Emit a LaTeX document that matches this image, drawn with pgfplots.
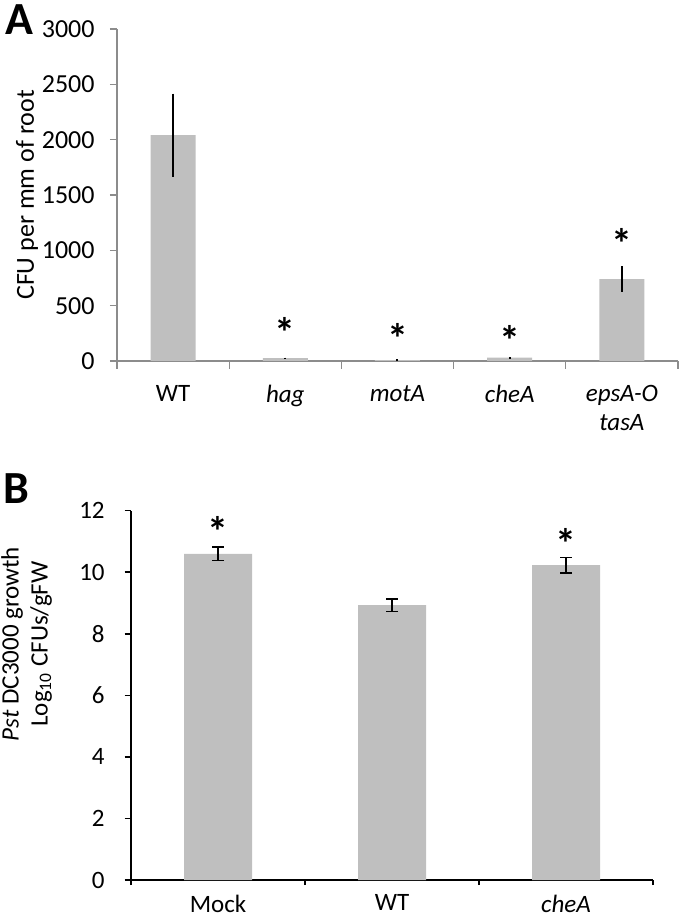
\documentclass[border=0pt]{standalone}
\usepackage{fontspec}
\setmainfont{Carlito}
\usepackage{pgfplots}
\pgfplotsset{compat=1.18}
\definecolor{bargray}{RGB}{191,191,191}
\definecolor{axgray}{RGB}{140,140,140}

\begin{document}
\begin{tikzpicture}
\useasboundingbox (0,0) rectangle (340pt,458.5pt);
% ---------------- Panel A ----------------
\begin{axis}[
  at={(58.5pt,278pt)}, anchor=south west,
  scale only axis, width=280.5pt, height=166pt,
  xmin=-0.5, xmax=4.5, ymin=0, ymax=3000,
  axis x line=bottom, axis y line=left,
  axis line style={-, draw=axgray, line width=0.6pt},
  ytick={0,500,...,3000},
  xtick={0,1,2,3,4},
  xticklabels={WT,\textit{hag},\textit{motA},\textit{cheA},{\textit{epsA-O}\\\textit{tasA}}},
  minor xtick={-0.5,0.5,...,4.5},
  major x tick style={draw=none},
  minor x tick style={draw=axgray, line width=0.6pt},
  major y tick style={draw=axgray, line width=0.6pt},
  tick align=outside, major tick length=3.5pt, minor tick length=4pt,
  /pgf/number format/assume math mode=true,
  /pgf/number format/1000 sep={},
  yticklabel style={font=\fontsize{13}{15}\selectfont, inner sep=0pt, xshift=-7.5pt},
  xticklabel style={font=\fontsize{12.5}{14.2}\selectfont, align=center, anchor=north, inner sep=0pt, yshift=-8.5pt},
  clip=false,
]
\addplot[ybar, bar width=22.5pt, fill=bargray, draw=none,
  error bars/.cd, y dir=both, y explicit,
  error bar style={black, line width=1pt}, error mark=none]
  coordinates {(0,2040) +- (0,375) (1,25) +- (0,5) (2,7) +- (0,7) (3,30) +- (0,8) (4,740) +- (0,115)};
\addplot[draw=none, forget plot, nodes near coords={\bfseries *},
  every node near coord/.style={anchor=center, inner sep=0pt, font=\fontsize{21}{21}\selectfont}]
  coordinates {(1,258) (2,204) (3,189) (4,1058)};
\end{axis}
\node[rotate=90, font=\fontsize{13}{15}\selectfont] at (13.5pt,361pt) {CFU per mm of root};
\node[font=\bfseries\fontsize{23}{24}\selectfont, inner sep=0pt] at (9.5pt,448.75pt) {A};
% ---------------- Panel B ----------------
\begin{axis}[
  at={(65.5pt,18.5pt)}, anchor=south west,
  scale only axis, width=261pt, height=184.65pt,
  xmin=-0.5, xmax=2.5, ymin=0, ymax=12,
  axis x line=bottom, axis y line=left,
  axis line style={-, draw=black, line width=0.75pt},
  ytick={0,2,...,12},
  xtick={0,1,2},
  xticklabels={Mock,WT,\textit{cheA}},
  minor xtick={-0.5,0.5,...,2.5},
  major x tick style={draw=none},
  minor x tick style={draw=black, line width=0.75pt},
  major y tick style={draw=black, line width=0.75pt},
  tick align=outside, major tick length=3.25pt, minor tick length=2.5pt,
  /pgf/number format/assume math mode=true,
  yticklabel style={font=\fontsize{12.5}{14}\selectfont, inner sep=0pt, xshift=-9.75pt},
  xticklabel style={font=\fontsize{12.5}{14.2}\selectfont, anchor=north, inner sep=0pt, yshift=-4pt},
  clip=false,
]
\addplot[ybar, bar width=34pt, fill=bargray, draw=none,
  error bars/.cd, y dir=both, y explicit,
  error bar style={black, line width=0.7pt},
  error mark options={rotate=90, mark size=3pt, line width=0.7pt}]
  coordinates {(0,10.6) +- (0,0.22) (1,8.93) +- (0,0.2) (2,10.23) +- (0,0.25)};
\addplot[draw=none, forget plot, nodes near coords={\bfseries *},
  every node near coord/.style={anchor=center, inner sep=0pt, font=\fontsize{21}{21}\selectfont}]
  coordinates {(0,11.34) (2,10.95)};
\end{axis}
\node[rotate=90, align=center, font=\fontsize{12.5}{14.5}\selectfont] at (13.25pt,136.5pt) {\textit{Pst} DC3000 growth\\Log\textsubscript{10} CFUs/gFW};
\node[font=\bfseries\fontsize{23}{24}\selectfont, inner sep=0pt] at (8pt,214.3pt) {B};
\end{tikzpicture}
\end{document}
